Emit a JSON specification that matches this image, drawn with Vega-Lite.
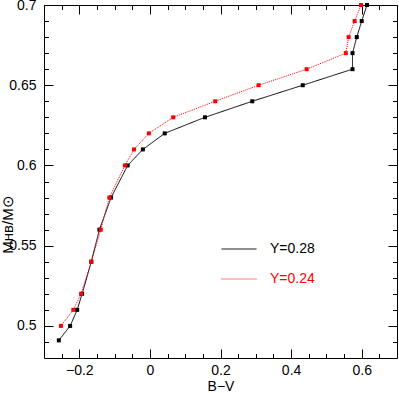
{
  "$schema": "https://vega.github.io/schema/vega-lite/v6.json",
  "width": 353,
  "height": 353,
  "autosize": {"type": "none"},
  "padding": {"left": 44, "top": 5, "right": 2, "bottom": 35},
  "background": "white",
  "config": {
    "font": "Liberation Sans",
    "view": {"stroke": "black", "strokeWidth": 1},
    "axis": {"domain": false, "grid": false, "tickColor": "black", "tickWidth": 1, "labelColor": "black", "labelFontSize": 14, "labelFont": "Liberation Sans", "titleFont": "Liberation Sans", "titleFontSize": 14, "titleFontWeight": "normal", "titleColor": "black"}
  },
  "data": {
    "values": [
      {"series": "Y=0.28", "bv": -0.258, "m": 0.491},
      {"series": "Y=0.28", "bv": -0.226, "m": 0.50},
      {"series": "Y=0.28", "bv": -0.206, "m": 0.51},
      {"series": "Y=0.28", "bv": -0.192, "m": 0.52},
      {"series": "Y=0.28", "bv": -0.166, "m": 0.54},
      {"series": "Y=0.28", "bv": -0.143, "m": 0.56},
      {"series": "Y=0.28", "bv": -0.110, "m": 0.58},
      {"series": "Y=0.28", "bv": -0.063, "m": 0.60},
      {"series": "Y=0.28", "bv": -0.020, "m": 0.61},
      {"series": "Y=0.28", "bv": 0.042, "m": 0.62},
      {"series": "Y=0.28", "bv": 0.156, "m": 0.63},
      {"series": "Y=0.28", "bv": 0.290, "m": 0.64},
      {"series": "Y=0.28", "bv": 0.433, "m": 0.65},
      {"series": "Y=0.28", "bv": 0.574, "m": 0.66},
      {"series": "Y=0.28", "bv": 0.574, "m": 0.67},
      {"series": "Y=0.28", "bv": 0.586, "m": 0.68},
      {"series": "Y=0.28", "bv": 0.600, "m": 0.69},
      {"series": "Y=0.28", "bv": 0.615, "m": 0.70},
      {"series": "Y=0.24", "bv": -0.252, "m": 0.50},
      {"series": "Y=0.24", "bv": -0.217, "m": 0.51},
      {"series": "Y=0.24", "bv": -0.195, "m": 0.52},
      {"series": "Y=0.24", "bv": -0.166, "m": 0.54},
      {"series": "Y=0.24", "bv": -0.139, "m": 0.56},
      {"series": "Y=0.24", "bv": -0.115, "m": 0.58},
      {"series": "Y=0.24", "bv": -0.071, "m": 0.60},
      {"series": "Y=0.24", "bv": -0.045, "m": 0.61},
      {"series": "Y=0.24", "bv": -0.003, "m": 0.62},
      {"series": "Y=0.24", "bv": 0.066, "m": 0.63},
      {"series": "Y=0.24", "bv": 0.185, "m": 0.64},
      {"series": "Y=0.24", "bv": 0.308, "m": 0.65},
      {"series": "Y=0.24", "bv": 0.444, "m": 0.66},
      {"series": "Y=0.24", "bv": 0.555, "m": 0.67},
      {"series": "Y=0.24", "bv": 0.563, "m": 0.68},
      {"series": "Y=0.24", "bv": 0.580, "m": 0.69},
      {"series": "Y=0.24", "bv": 0.598, "m": 0.70}
    ]
  },
  "resolve": {"axis": {"x": "independent", "y": "independent"}},
  "layer": [
    {
      "mark": {"type": "line", "strokeWidth": 1},
      "encoding": {
        "x": {"field": "bv", "type": "quantitative", "scale": {"domain": [-0.3, 0.7], "nice": false, "zero": false},
          "axis": {"orient": "bottom", "title": "B−V", "values": [-0.2, 0, 0.2, 0.4, 0.6], "tickSize": -9, "labelPadding": 14, "titlePadding": 2, "labelExpr": "datum.value == 0 ? '0' : replace(datum.label, '-', '−')"}},
        "y": {"field": "m", "type": "quantitative", "scale": {"domain": [0.48, 0.7], "nice": false, "zero": false},
          "axis": {"orient": "left", "title": "Mʜʙ/M⊙", "values": [0.5, 0.55, 0.6, 0.65, 0.7], "tickSize": -9, "labelPadding": 17,
            "labelExpr": "format(datum.value, '~g')",
            "titleX": -37, "titleY": 219, "titleAngle": 270, "titleBaseline": "middle", "titleFontSize": 15}},
        "color": {"field": "series", "type": "nominal", "scale": {"domain": ["Y=0.28", "Y=0.24"], "range": ["black", "red"]},
          "legend": {"orient": "none", "legendX": 177, "legendY": 226, "title": null, "symbolType": "stroke", "symbolSize": 1225, "symbolStrokeWidth": 1, "labelFontSize": 14, "labelOffset": 13, "rowPadding": 5, "padding": 0,
            "labelFont": "Liberation Sans",
            "encode": {"labels": {"update": {"fill": {"signal": "datum.value === 'Y=0.24' ? 'red' : 'black'"}}}}}},
        "strokeDash": {"field": "series", "type": "nominal", "scale": {"domain": ["Y=0.28", "Y=0.24"], "range": [[1, 0], [1, 1]]}, "legend": null},
        "order": {"field": "m", "type": "quantitative"}
      }
    },
    {
      "mark": {"type": "point", "shape": "square", "filled": true, "size": 16, "opacity": 1},
      "encoding": {
        "x": {"field": "bv", "type": "quantitative", "scale": {"domain": [-0.3, 0.7], "nice": false, "zero": false},
          "axis": {"orient": "bottom", "title": null, "labels": false, "values": [-0.25, -0.15, -0.1, -0.05, 0.05, 0.1, 0.15, 0.25, 0.3, 0.35, 0.45, 0.5, 0.55, 0.65], "tickSize": -4.5}},
        "y": {"field": "m", "type": "quantitative", "scale": {"domain": [0.48, 0.7], "nice": false, "zero": false},
          "axis": {"orient": "left", "title": null, "labels": false, "values": [0.49, 0.51, 0.52, 0.53, 0.54, 0.56, 0.57, 0.58, 0.59, 0.61, 0.62, 0.63, 0.64, 0.66, 0.67, 0.68, 0.69], "tickSize": -4.5}},
        "color": {"field": "series", "type": "nominal", "scale": {"domain": ["Y=0.28", "Y=0.24"], "range": ["black", "red"]}, "legend": null}
      }
    },
    {
      "mark": {"type": "point", "opacity": 0},
      "encoding": {
        "x": {"field": "bv", "type": "quantitative", "scale": {"domain": [-0.3, 0.7], "nice": false, "zero": false},
          "axis": {"orient": "top", "title": null, "labels": false, "values": [-0.2, 0, 0.2, 0.4, 0.6], "tickSize": -9}},
        "y": {"field": "m", "type": "quantitative", "scale": {"domain": [0.48, 0.7], "nice": false, "zero": false},
          "axis": {"orient": "right", "title": null, "labels": false, "values": [0.5, 0.55, 0.6, 0.65, 0.7], "tickSize": -9}}
      }
    },
    {
      "mark": {"type": "point", "opacity": 0},
      "encoding": {
        "x": {"field": "bv", "type": "quantitative", "scale": {"domain": [-0.3, 0.7], "nice": false, "zero": false},
          "axis": {"orient": "top", "title": null, "labels": false, "values": [-0.25, -0.15, -0.1, -0.05, 0.05, 0.1, 0.15, 0.25, 0.3, 0.35, 0.45, 0.5, 0.55, 0.65], "tickSize": -4.5}},
        "y": {"field": "m", "type": "quantitative", "scale": {"domain": [0.48, 0.7], "nice": false, "zero": false},
          "axis": {"orient": "right", "title": null, "labels": false, "values": [0.49, 0.51, 0.52, 0.53, 0.54, 0.56, 0.57, 0.58, 0.59, 0.61, 0.62, 0.63, 0.64, 0.66, 0.67, 0.68, 0.69], "tickSize": -4.5}}
      }
    }
  ]
}
